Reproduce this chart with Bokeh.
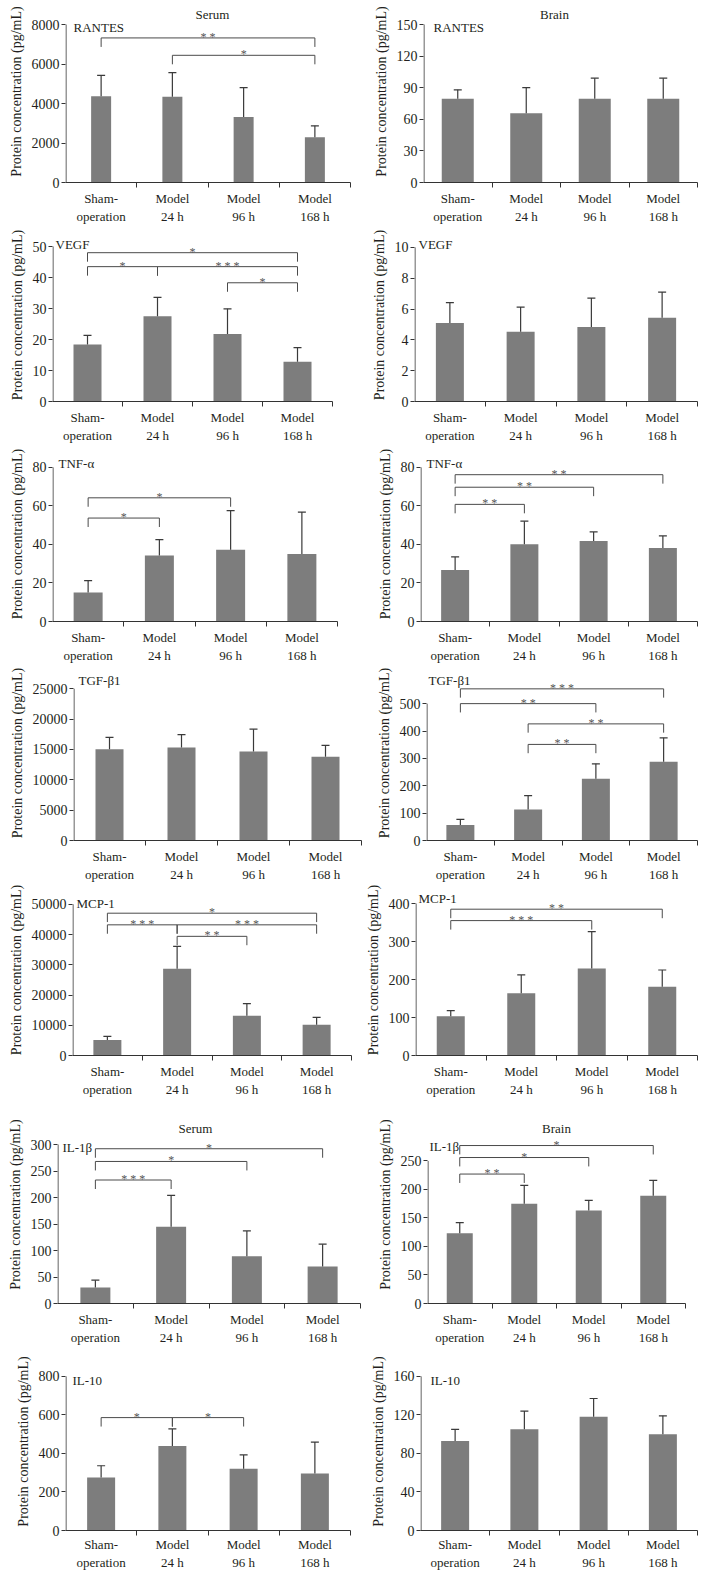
from bokeh.plotting import figure
from bokeh.models import Range1d, FixedTicker, Label, NumeralTickFormatter
from bokeh.layouts import column, row
from bokeh.embed import file_html
from bokeh.resources import INLINE

categories = ["Sham-\noperation", "Model\n24 h", "Model\n96 h", "Model\n168 h"]
y_title = "Protein concentration (pg/mL)"

# ---- data (means and SD) ----
rantes_serum_mean = [4370, 4340, 3320, 2290]
rantes_serum_sd = [1050, 1220, 1480, 580]
rantes_brain_mean = [79.4, 65.8, 79.4, 79.4]
rantes_brain_sd = [8.6, 24.2, 19.6, 19.6]

vegf_serum_mean = [18.4, 27.5, 21.8, 12.8]
vegf_serum_sd = [2.9, 6.1, 8.1, 4.6]
vegf_brain_mean = [5.10, 4.52, 4.84, 5.44]
vegf_brain_sd = [1.31, 1.61, 1.87, 1.66]

tnf_serum_mean = [15.0, 34.2, 37.3, 35.1]
tnf_serum_sd = [6.2, 8.3, 20.3, 21.7]
tnf_brain_mean = [26.7, 40.1, 41.8, 38.2]
tnf_brain_sd = [6.8, 12.0, 4.7, 6.2]

tgf_serum_mean = [15030, 15300, 14660, 13810]
tgf_serum_sd = [1970, 2130, 3680, 1860]
tgf_brain_mean = [57, 113, 226, 288]
tgf_brain_sd = [20, 51, 54, 87]

mcp_serum_mean = [5140, 28670, 13130, 10180]
mcp_serum_sd = [1210, 7430, 4050, 2400]
mcp_brain_mean = [103, 164, 229, 181]
mcp_brain_sd = [15, 48, 97, 44]

il1b_serum_mean = [30, 145, 89, 70]
il1b_serum_sd = [14, 59, 48, 42]
il1b_brain_mean = [123, 175, 163, 189]
il1b_brain_sd = [19, 32, 18, 27]

il10_serum_mean = [275, 438, 321, 296]
il10_serum_sd = [61, 89, 71, 163]
il10_brain_mean = [93, 105, 118, 100]
il10_brain_sd = [12, 19, 19, 19]

# significance brackets: (group a, group b, bracket level, stars)
rantes_serum_sig = [(1, 4, 7320, "**"), (2, 4, 6440, "*")]
vegf_serum_sig = [(1, 4, 48.0, "*"), (1, 2, 43.5, "*"), (2, 4, 43.5, "***"), (3, 4, 38.3, "*")]
tnf_serum_sig = [(1, 3, 64.2, "*"), (1, 2, 53.7, "*")]
tnf_brain_sig = [(1, 4, 76.2, "**"), (1, 3, 69.7, "**"), (1, 2, 60.8, "**")]
tgf_brain_sig = [(1, 4, 554, "***"), (1, 3, 500, "**"), (2, 4, 426, "**"), (2, 3, 351, "**")]
mcp_serum_sig = [(1, 4, 47050, "*"), (1, 2, 43200, "***"), (2, 4, 43200, "***"), (2, 3, 39400, "**")]
mcp_brain_sig = [(1, 4, 385, "**"), (1, 3, 355, "***")]
il1b_serum_sig = [(1, 4, 292, "*"), (1, 3, 268, "*"), (1, 2, 233, "***")]
il1b_brain_sig = [(1, 4, 277, "*"), (1, 3, 256, "*"), (1, 2, 227, "**")]
il10_serum_sig = [(1, 2, 586, "*"), (2, 3, 586, "*")]

FONT = "Liberation Serif"
TXT = "#231f20"
BAR = "#7d7d7d"
ERR = "#3a3a3a"
BRK = "#4a4a4a"
AX = "#333333"


def panel(mean, sd, ymax, ystep, sig, name, L, title=None, xstand=3):
    fx0, fx1, fy0, fy1, ax0, ax1, ytop, y0, bw, nx, ny = L
    W = fx1 - fx0
    H = fy1 - fy0
    ppu_y = (y0 - ytop) / ymax
    ppu_x = (ax1 - ax0) / 4.0
    y_end = (y0 - fy0) / ppu_y

    def dx(px):
        return 0.5 + (px - ax0) / ppu_x

    def dy(py):
        return (y0 - py) / ppu_y

    p = figure(width=W, height=H, x_range=Range1d(0.5, 4.5), y_range=Range1d(0, y_end),
               output_backend="svg", toolbar_location=None, title=None,
               min_border_left=ax0 - fx0, min_border_right=fx1 - ax1,
               min_border_top=0, min_border_bottom=fy1 - y0)
    p.outline_line_color = None
    p.grid.visible = False
    p.background_fill_color = "white"
    p.border_fill_color = "white"

    xs = list(range(1, len(categories) + 1))
    p.vbar(x=xs, top=mean, width=bw / ppu_x, fill_color=BAR, line_color=None)
    tops = [m + s for m, s in zip(mean, sd)]
    p.segment(x0=xs, y0=mean, x1=xs, y1=tops, line_color=ERR, line_width=1.2)
    cap = 4.0 / ppu_x
    p.segment(x0=[x - cap for x in xs], y0=tops, x1=[x + cap for x in xs], y1=tops,
              line_color=ERR, line_width=1.2)

    # y-axis rule only from 0 to the top tick value
    xl = 0.5 + 0.5 / ppu_x
    p.segment(x0=[xl], y0=[0], x1=[xl], y1=[ymax], line_color=AX, line_width=1)

    drop = 9.0 / ppu_y
    for a, b, lvl, stars in sig:
        p.line(x=[a, a, b, b], y=[lvl - drop, lvl, lvl, lvl - drop], line_color=BRK, line_width=1)
        p.add_layout(Label(x=(a + b) / 2.0, y=lvl, y_offset=1, text=" ".join(stars),
                           text_align="center", text_baseline="alphabetic",
                           text_font=FONT, text_font_size="12px", text_color="#555555"))

    p.add_layout(Label(x=dx(nx), y=dy(ny), text=name, text_align="left", text_baseline="middle",
                       text_font=FONT, text_font_size="13px", text_color=TXT))
    if title is not None:
        t, tx, ty = title
        p.add_layout(Label(x=dx(tx), y=dy(ty), text=t, text_align="center", text_baseline="middle",
                           text_font=FONT, text_font_size="13px", text_color=TXT))

    xa = p.xaxis[0]
    xa.ticker = FixedTicker(ticks=xs, minor_ticks=[1.5, 2.5, 3.5, 4.5])
    xa.major_label_overrides = {i + 1: c for i, c in enumerate(categories)}
    xa.major_tick_out = 0
    xa.major_tick_in = 0
    xa.minor_tick_out = 5
    xa.minor_tick_in = 0
    xa.minor_tick_line_color = AX
    xa.axis_line_color = AX
    xa.major_label_standoff = xstand
    xa.major_label_text_font = FONT
    xa.major_label_text_font_size = "13px"
    xa.major_label_text_color = TXT

    ya = p.yaxis[0]
    ya.ticker = FixedTicker(ticks=list(range(0, ymax + 1, ystep)), minor_ticks=[])
    ya.formatter = NumeralTickFormatter(format="0")
    ya.bounds = (0, ymax)
    ya.major_tick_out = 4
    ya.major_tick_in = 0
    ya.major_tick_line_color = AX
    ya.minor_tick_line_color = None
    ya.axis_line_color = None
    ya.major_label_standoff = 2
    ya.major_label_text_font = FONT
    ya.major_label_text_font_size = "14px"
    ya.major_label_text_color = TXT
    ya.axis_label = y_title
    ya.axis_label_standoff = 5
    ya.axis_label_text_font = FONT
    ya.axis_label_text_font_size = "14px"
    ya.axis_label_text_font_style = "normal"
    ya.axis_label_text_color = TXT
    return p


# layout: fig x0, x1, y0, y1, axis left, axis right, top tick y, zero y, bar px, name x, name y
p1 = panel(rantes_serum_mean, rantes_serum_sd, 8000, 2000, rantes_serum_sig, "RANTES",
           (0, 360, 0, 228, 65, 350, 24, 182, 20, 73, 27), ("Serum", 212, 14))
p2 = panel(rantes_brain_mean, rantes_brain_sd, 150, 30, [], "RANTES",
           (360, 707, 0, 228, 423, 697, 24, 182, 32, 433, 27), ("Brain", 554, 14))
p3 = panel(vegf_serum_mean, vegf_serum_sd, 50, 10, vegf_serum_sig, "VEGF",
           (0, 355, 228, 446, 52, 332, 246, 401, 28, 55, 244))
p4 = panel(vegf_brain_mean, vegf_brain_sd, 10, 2, [], "VEGF",
           (355, 707, 228, 446, 414, 697, 247, 402, 28, 418, 244))
p5 = panel(tnf_serum_mean, tnf_serum_sd, 80, 20, tnf_serum_sig, "TNF-α",
           (0, 360, 446, 665, 52, 337, 467, 622, 29, 58, 463))
p6 = panel(tnf_brain_mean, tnf_brain_sd, 80, 20, tnf_brain_sig, "TNF-α",
           (360, 707, 446, 665, 420, 697, 467, 622, 28, 426, 463))
p7 = panel(tgf_serum_mean, tgf_serum_sd, 25000, 5000, [], "TGF-β1",
           (0, 366, 665, 884, 73, 361, 689, 846, 28, 78, 681))
p8 = panel(tgf_brain_mean, tgf_brain_sd, 500, 100, tgf_brain_sig, "TGF-β1",
           (366, 707, 665, 884, 426, 697, 704, 844, 28, 428, 680))
p9 = panel(mcp_serum_mean, mcp_serum_sd, 50000, 10000, mcp_serum_sig, "MCP-1",
           (0, 360, 884, 1105, 72, 351, 904, 1057, 28, 76, 903))
p10 = panel(mcp_brain_mean, mcp_brain_sd, 400, 100, mcp_brain_sig, "MCP-1",
            (360, 707, 884, 1105, 415, 697, 903, 1055, 28, 418, 898))
p11 = panel(il1b_serum_mean, il1b_serum_sd, 300, 50, il1b_serum_sig, "IL-1β",
            (0, 365, 1105, 1352, 57, 360, 1144, 1303, 30, 62, 1147), ("Serum", 195, 1128))
p12 = panel(il1b_brain_mean, il1b_brain_sd, 250, 50, il1b_brain_sig, "IL-1β",
            (365, 707, 1105, 1352, 427, 685, 1161, 1305, 26, 429, 1146), ("Brain", 556, 1128))
p13 = panel(il10_serum_mean, il10_serum_sd, 800, 200, il10_serum_sig, "IL-10",
            (0, 360, 1352, 1572, 65, 350, 1376, 1531, 28, 72, 1380), xstand=1)
p14 = panel(il10_brain_mean, il10_brain_sd, 160, 40, [], "IL-10",
            (360, 707, 1352, 1572, 420, 697, 1376, 1531, 28, 430, 1380), xstand=1)

layout = column(row(p1, p2), row(p3, p4), row(p5, p6), row(p7, p8),
                row(p9, p10), row(p11, p12), row(p13, p14))

open("out.html", "w").write(file_html(layout, INLINE))
